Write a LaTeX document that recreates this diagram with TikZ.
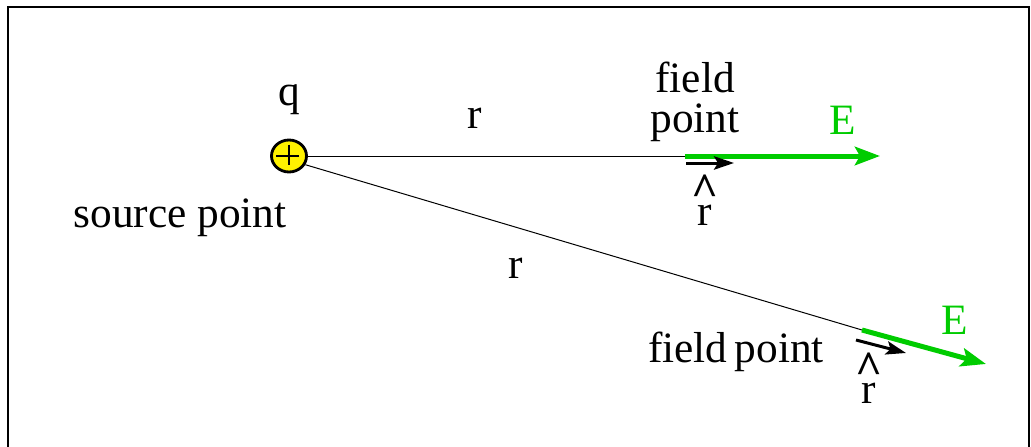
\documentclass[tikz,border=0pt]{standalone}
\usepackage{fontspec}
\setmainfont{Liberation Serif}
\usetikzlibrary{arrows.meta,shapes.geometric}

\begin{document}
\begin{tikzpicture}[x=0.3pt,y=-0.3pt,font=\fontsize{13}{12}\selectfont,
  lbl/.style={inner sep=0pt,align=center},
  efield/.style={draw=green!80!black,line width=1.5pt,-{Stealth[length=7.5pt,width=5.5pt,inset=1.5pt]}},
  unitvec/.style={line width=0.9pt,-{Stealth[length=6pt,width=4pt,inset=1.2pt]}},
  hatr/.style={inner sep=0pt,align=center,font=\fontsize{13}{9}\selectfont}]
\useasboundingbox (0,0) rectangle (1031,447);
\draw[line width=0.45pt] (8,447) -- (8,7) -- (1029,7) -- (1029,447);
% charge
\node[ellipse,draw,line width=0.85pt,fill=yellow,minimum width=10.5pt,minimum height=9.6pt,inner sep=0pt] (src) at (289,156) {};
\draw[line width=0.5pt] (src.north) ++(0,6) -- ++(0,20) (src.west) ++(6,0) -- ++(23,0);
\node[lbl] (q) at (289,100) {q};
\node[lbl] (srclbl) at (180,218) {source point};
% first field point
\coordinate (fp1) at (685,156);
\coordinate (e1) at (880,156);
\draw[line width=0.3pt] (src) -- (fp1);
\draw[efield] (fp1) -- (e1);
\node[lbl] (r1) at (475,118) {r};
\node[lbl] (fp1lbl) at (695,102) {field\\point};
\node[lbl,text=green!80!black] (e1lbl) at (843,120) {E};
\coordinate (u1a) at (686,163);
\coordinate (u1b) at (734,163);
\draw[unitvec] (u1a) -- (u1b);
\node[hatr] (rhat1) at (705,200) {{\fontsize{14}{9}\selectfont\bfseries\^{}}\\[-3pt]r};
% second field point
\coordinate (fp2) at (862,330);
\coordinate (e2) at (986,364);
\draw[line width=0.3pt] (src.-28) -- (fp2);
\draw[efield] (fp2) -- (e2);
\node[lbl] (r2) at (516,268) {r};
\node[lbl] (fp2lbl) at (736,352) {field\,point};
\node[lbl,text=green!80!black] (e2lbl) at (955,320) {E};
\coordinate (u2a) at (856,340);
\coordinate (u2b) at (906,353);
\draw[unitvec] (u2a) -- (u2b);
\node[hatr] (rhat2) at (869,378) {{\fontsize{14}{9}\selectfont\bfseries\^{}}\\[-3pt]r};
\end{tikzpicture}
\end{document}
